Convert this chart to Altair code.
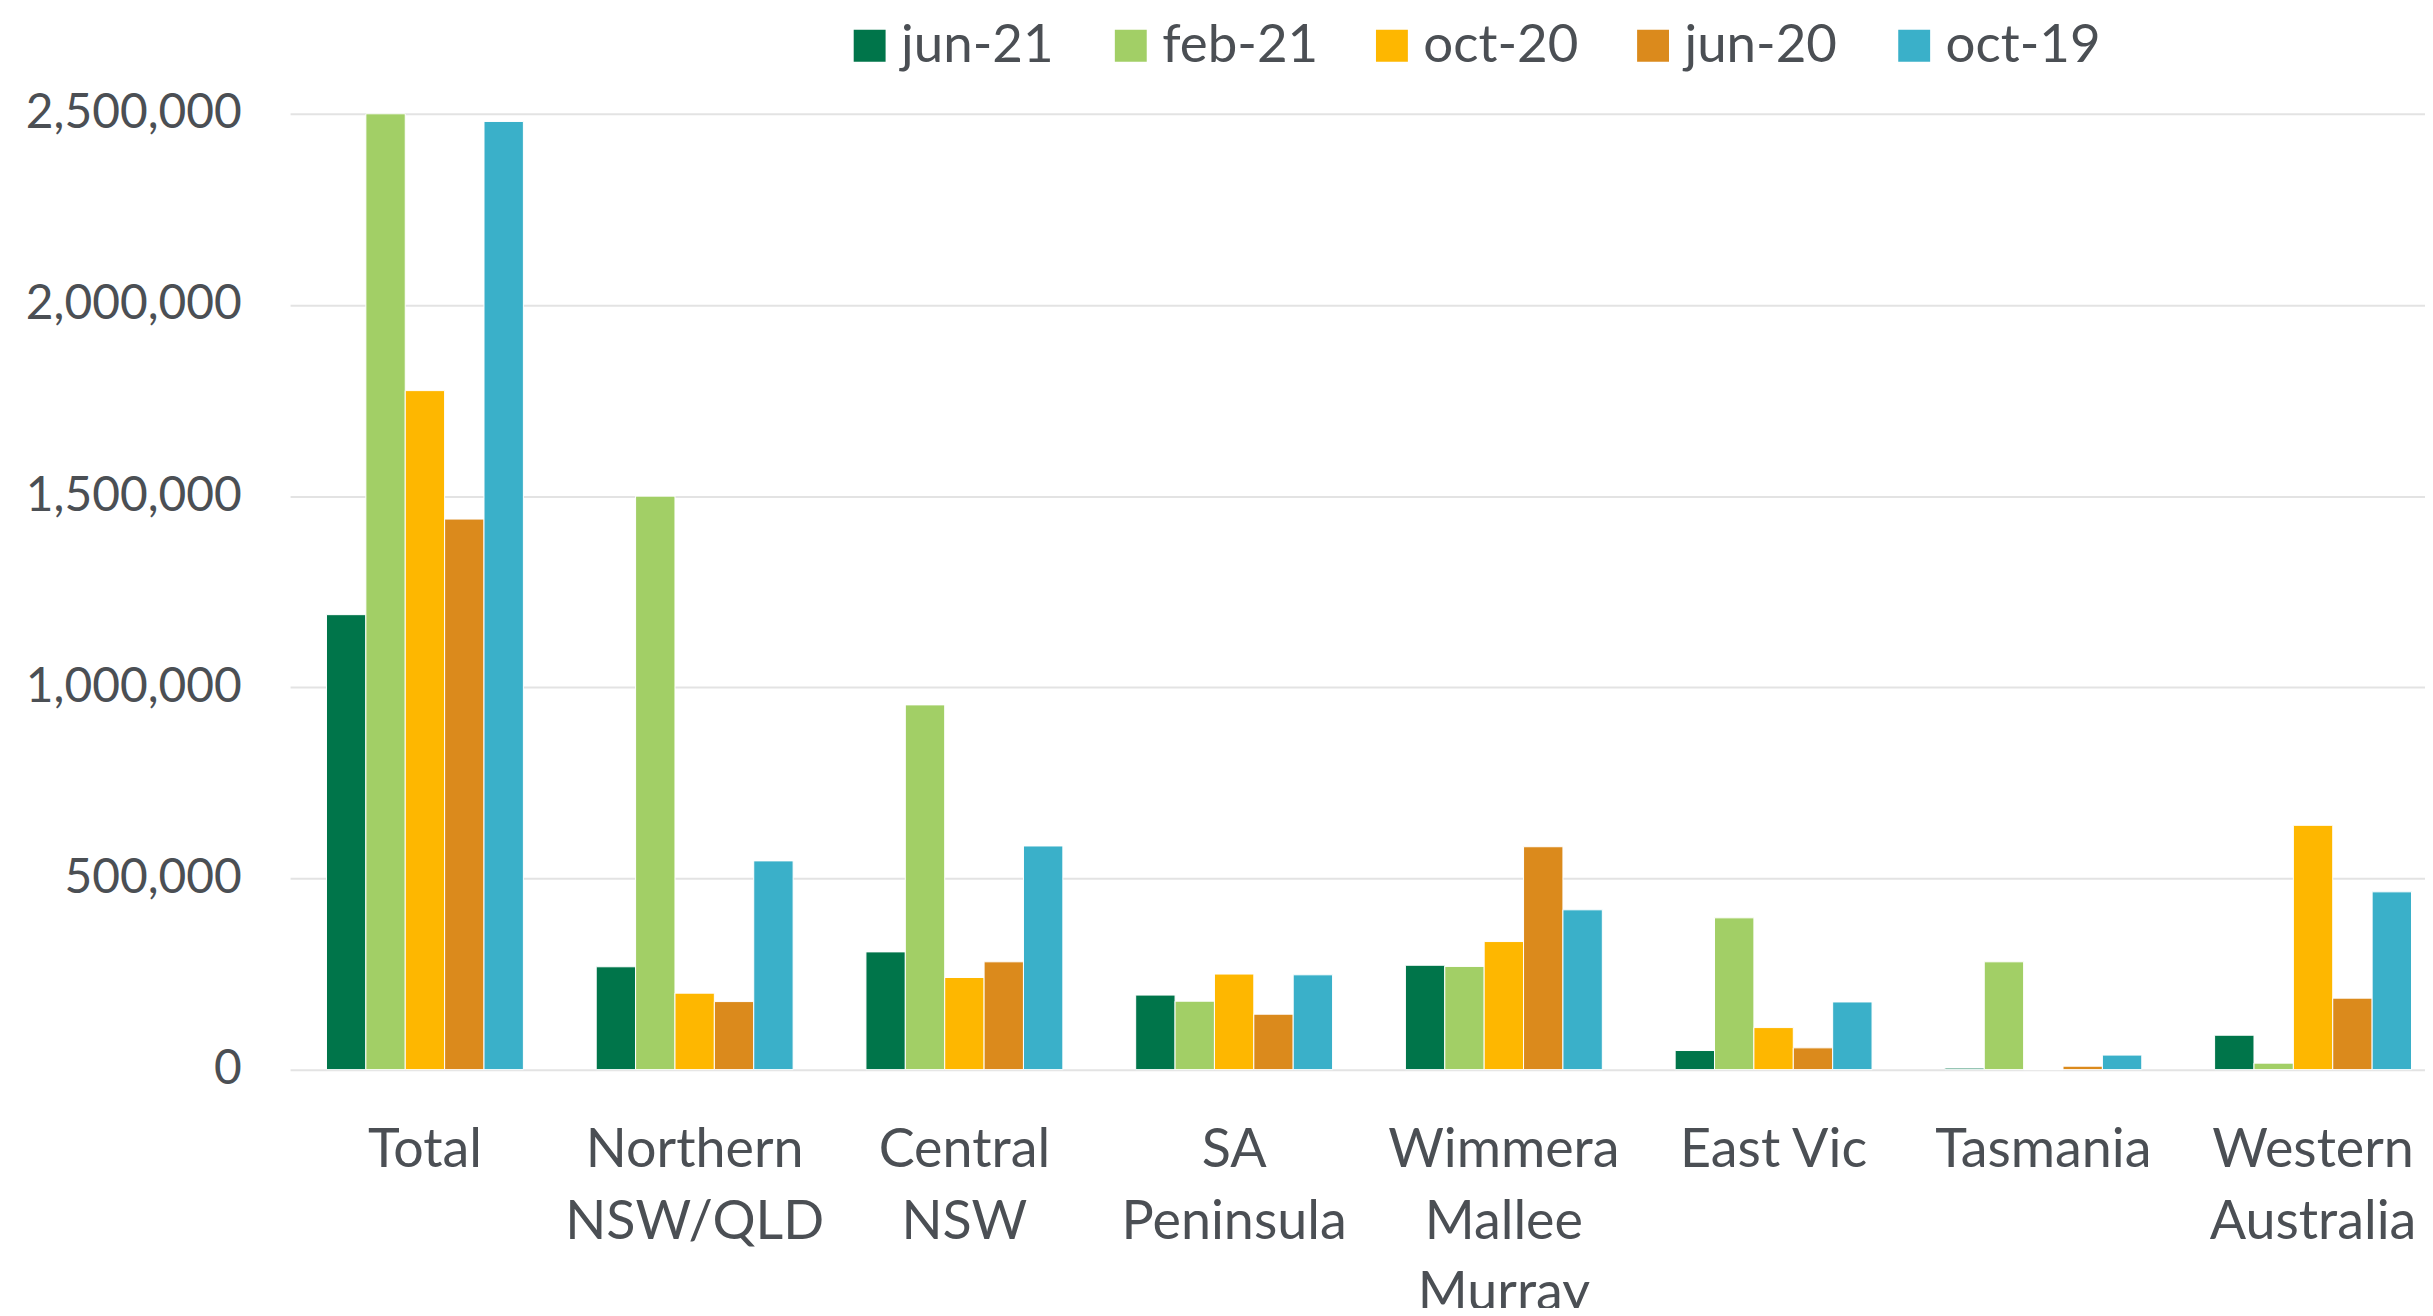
import altair as alt
import pandas as pd

regions = ["Total", "Northern NSW/QLD", "Central NSW", "SA Peninsula",
           "Wimmera Mallee Murray", "East Vic", "Tasmania", "Western Australia"]
series = ["jun-21", "feb-21", "oct-20", "jun-20", "oct-19"]
colors = ["#00754A", "#A2CF66", "#FEB700", "#DB8A1C", "#3AB0C9"]

jun21 = [1190000, 269000, 308000, 195000, 273000, 50000, 4000, 90000]
feb21 = [2500000, 1500000, 954000, 179000, 270000, 397000, 282000, 17000]
oct20 = [1776000, 200000, 241000, 250000, 335000, 110000, 0, 639000]
jun20 = [1440000, 178000, 282000, 145000, 583000, 57000, 9000, 187000]
oct19 = [2480000, 546000, 585000, 248000, 418000, 177000, 38000, 465000]

values = [jun21, feb21, oct20, jun20, oct19]
rows = []
for s, vals in zip(series, values):
    for r, v in zip(regions, vals):
        rows.append({"region": r, "series": s, "value": v})
df = pd.DataFrame(rows)

FONT = "Lato"
TXT = "#4B4F54"

chart = alt.Chart(df).mark_bar(stroke="white", strokeWidth=1).encode(
    x=alt.X("region:N", sort=regions,
            scale=alt.Scale(range=[0, 2165], paddingInner=0.27, paddingOuter=0.135),
            axis=alt.Axis(title=None, labelAngle=0, domain=False, ticks=False,
                          labelFont=FONT, labelFontSize=54, labelColor=TXT,
                          labelPadding=54, labelLineHeight=72, labelLimit=400,
                          labelExpr="datum.label == 'East Vic' ? datum.label : split(datum.label, ' ')")),
    xOffset=alt.XOffset("series:N", sort=series, scale=alt.Scale(paddingInner=0, paddingOuter=0)),
    y=alt.Y("value:Q", scale=alt.Scale(domain=[0, 2500000], nice=False),
            axis=alt.Axis(title=None, values=[0, 500000, 1000000, 1500000, 2000000, 2500000],
                          format=",d", domain=False, ticks=False, labelLimit=400,
                          labelFont=FONT, labelFontSize=48, labelColor=TXT,
                          labelPadding=49, gridColor="#E3E3E3", gridWidth=2)),
    color=alt.Color("series:N", sort=series,
                    scale=alt.Scale(domain=series, range=colors),
                    legend=alt.Legend(title=None, orient="none", direction="horizontal",
                                      columns=5, legendX=555, legendY=-95,
                                      symbolType="square", symbolSize=1024,
                                      symbolStrokeWidth=0, gridAlign="all",
                                      labelFont=FONT, labelFontSize=53, labelColor=TXT,
                                      labelOffset=5, columnPadding=47, labelLimit=400)),
).properties(
    width=2142, height=959,
    autosize=alt.AutoSizeParams(type="none"),
    padding={"left": 283, "top": 104, "right": 0, "bottom": 237},
).configure_view(stroke=None)

chart.save("out.html", embed_options={"renderer": "svg", "actions": False})
